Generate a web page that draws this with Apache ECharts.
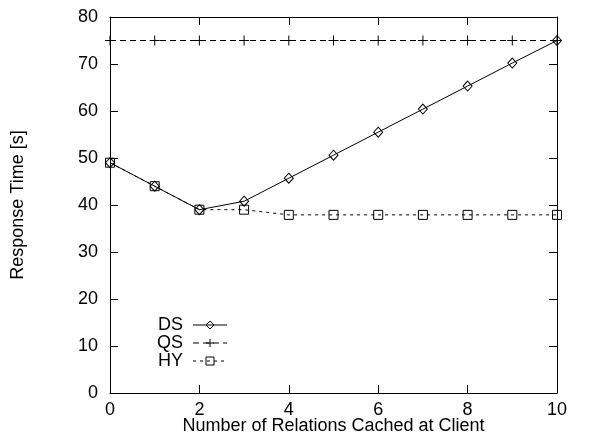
<!DOCTYPE html>
<html><head><meta charset="utf-8">
<script src="https://cdn.jsdelivr.net/npm/echarts@6/dist/echarts.min.js"></script>
<style>html,body{margin:0;padding:0;background:#fff}#c{width:595px;height:437px}</style>
</head><body><div id="c"></div>
<script>
var categories = [0,1,2,3,4,5,6,7,8,9,10];
var dsValues = [49, 44, 39, 40.8, 45.7, 50.6, 55.5, 60.4, 65.3, 70.2, 75];
var qsValues = [75, 75, 75, 75, 75, 75, 75, 75, 75, 75, 75];
var hyValues = [49, 44, 39, 39, 37.9, 37.9, 37.9, 37.9, 37.9, 37.9, 37.9];
var xTicks = [0,2,4,6,8,10];
var yTicks = [0,10,20,30,40,50,60,70,80];

function pairs(v){ return categories.map(function(x,i){return [x,v[i]];}); }
var font = 'Liberation Sans, Arial, Helvetica, sans-serif';
var plus = 'path://M0,5L10,5M5,0L5,10';
var chart = echarts.init(document.getElementById('c'), null, {renderer:'canvas'});
function ax(extra){
  return Object.assign({
    axisLine:{show:true, onZero:false, lineStyle:{color:'#000', width:1}},
    axisTick:{show:true, inside:true, length:8, lineStyle:{color:'#000'}},
    splitLine:{show:false}
  }, extra);
}
chart.setOption({
  animation:false,
  backgroundColor:'#fff',
  grid:{left:110, right:38, top:17, bottom:44, containLabel:false, outerBoundsMode:'none'},
  legend:{
    left:152, top:311, orient:'vertical', align:'right',
    itemWidth:34, itemHeight:10, itemGap:0,
    lineStyle:{width:1},
    itemStyle:{color:'transparent', borderColor:'#000', borderWidth:1},
    textStyle:{fontFamily:font, fontSize:18, color:'#000', padding:[0,5,0,0]},
    data:['DS','QS','HY']
  },
  xAxis:[
    ax({type:'value', min:0, max:10, interval:2, position:'bottom',
      name:'Number of Relations Cached at Client', nameLocation:'middle', nameGap:24,
      nameMoveOverlap:false,
      nameTextStyle:{fontFamily:font, fontSize:18, color:'#000'},
      axisLabel:{fontFamily:font, fontSize:18, color:'#000', margin:8}}),
    ax({type:'value', min:0, max:10, interval:2, position:'top',
      axisLabel:{show:false}})
  ],
  yAxis:[
    ax({type:'value', min:0, max:80, interval:10, position:'left',
      name:'Response Time [s]', nameLocation:'middle', nameGap:83, nameRotate:90,
      nameMoveOverlap:false,
      nameTextStyle:{fontFamily:font, fontSize:18, color:'#000'},
      axisLabel:{fontFamily:font, fontSize:18, color:'#000', margin:12}}),
    ax({type:'value', min:0, max:80, interval:10, position:'right',
      axisLabel:{show:false}})
  ],
  series:[
    {name:'DS', type:'line', data:pairs(dsValues), symbol:'diamond', symbolSize:[9,10],
      lineStyle:{color:'#000', width:1, type:'solid'},
      itemStyle:{color:'transparent', borderColor:'#000', borderWidth:1}, z:3},
    {name:'QS', type:'line', data:pairs(qsValues), symbol:plus, symbolSize:10,
      lineStyle:{color:'#000', width:1, type:[6,4]},
      itemStyle:{color:'transparent', borderColor:'#000', borderWidth:1}, z:2},
    {name:'HY', type:'line', data:pairs(hyValues), symbol:'rect', symbolSize:9,
      lineStyle:{color:'#000', width:1, type:[3,4]},
      itemStyle:{color:'transparent', borderColor:'#000', borderWidth:1}, z:4}
  ]
});
</script></body></html>
